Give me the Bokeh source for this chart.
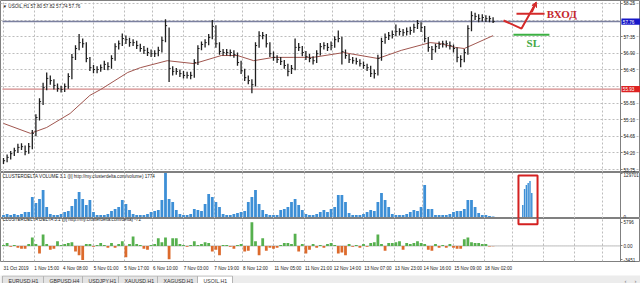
from bokeh.plotting import figure
from bokeh.layouts import column
from bokeh.models import (Range1d, LinearAxis, FixedTicker, Label, Grid,
                          PrintfTickFormatter, Arrow, VeeHead)
from bokeh.core.properties import value
from bokeh.embed import file_html
from bokeh.resources import INLINE

# ---------------- data ----------------
bar_hour = list(range(0, 273, 2))   # hourly bar index, sampled every 2 bars

closes = [53.99, 54.08, 54.18, 54.26, 54.35, 54.37, 54.24, 54.37, 54.73, 55.16,
          55.59, 55.97, 56.22, 56.16, 56.03, 55.95, 55.92, 56.00, 56.27, 56.79,
          57.03, 57.19, 57.16, 56.76, 56.51, 56.46, 56.46, 56.51, 56.60, 56.54,
          56.76, 57.08, 57.16, 57.30, 57.27, 57.19, 57.19, 57.11, 57.03, 56.98,
          56.92, 56.89, 56.89, 56.98, 57.25, 57.65, 56.49, 56.41, 56.41, 56.35,
          56.30, 56.30, 56.30, 56.65, 57.03, 57.14, 57.19, 57.33, 57.63, 57.16,
          56.95, 56.92, 56.92, 56.92, 56.87, 56.65, 56.43, 56.24, 56.16, 56.05,
          57.11, 57.38, 57.38, 57.16, 56.89, 56.79, 56.73, 56.68, 56.57, 56.41,
          56.49, 57.06, 57.06, 56.92, 56.81, 56.76, 56.70, 56.89, 57.08, 57.11,
          57.06, 57.11, 57.27, 57.30, 56.95, 56.84, 56.73, 56.70, 56.68, 56.62,
          56.57, 56.51, 56.35, 56.35, 56.76, 57.22, 57.33, 57.38, 57.41, 57.49,
          57.49, 57.46, 57.49, 57.52, 57.60, 57.71, 57.60, 57.30, 57.06, 57.00,
          57.08, 57.14, 57.16, 57.16, 57.11, 57.03, 56.79, 56.73, 56.92, 57.57,
          57.92, 57.90, 57.84, 57.87, 57.84, 57.84, 57.76]

highs = [54.06, 54.16, 54.25, 54.34, 54.45, 54.46, 54.40, 54.47, 54.82, 55.25,
         55.68, 56.10, 56.38, 56.30, 56.20, 56.08, 56.02, 56.08, 56.36, 56.88,
         57.12, 57.42, 57.30, 57.20, 56.80, 56.58, 56.55, 56.60, 56.70, 56.66,
         56.85, 57.17, 57.25, 57.44, 57.38, 57.32, 57.28, 57.24, 57.16, 57.10,
         57.05, 57.00, 56.98, 57.08, 57.35, 57.82, 57.60, 56.55, 56.50, 56.46,
         56.42, 56.40, 56.40, 56.74, 57.12, 57.22, 57.28, 57.42, 57.80, 57.66,
         57.20, 57.02, 57.02, 57.00, 56.98, 56.92, 56.70, 56.48, 56.30, 56.20,
         57.20, 57.50, 57.48, 57.42, 57.20, 56.95, 56.85, 56.80, 56.72, 56.62,
         56.58, 57.30, 57.18, 57.10, 56.96, 56.88, 56.82, 56.98, 57.18, 57.20,
         57.18, 57.22, 57.36, 57.52, 57.35, 57.00, 56.88, 56.80, 56.78, 56.74,
         56.68, 56.62, 56.56, 56.46, 56.86, 57.32, 57.44, 57.48, 57.52, 57.68,
         57.58, 57.56, 57.60, 57.62, 57.70, 57.80, 57.74, 57.64, 57.34, 57.10,
         57.16, 57.22, 57.24, 57.25, 57.22, 57.14, 57.06, 56.85, 57.02, 57.66,
         58.04, 58.00, 57.96, 57.96, 57.93, 57.92, 57.88]

lows = [53.90, 53.95, 54.02, 54.12, 54.20, 54.28, 54.14, 54.18, 54.30, 54.65,
        55.08, 55.50, 55.90, 56.05, 55.92, 55.86, 55.84, 55.85, 55.94, 56.20,
        56.72, 56.98, 57.05, 56.66, 56.42, 56.36, 56.36, 56.40, 56.45, 56.44,
        56.48, 56.70, 57.00, 57.10, 57.15, 57.08, 57.10, 57.02, 56.94, 56.88,
        56.83, 56.80, 56.80, 56.82, 56.92, 57.20, 56.12, 56.30, 56.32, 56.26,
        56.22, 56.22, 56.20, 56.24, 56.58, 56.98, 57.06, 57.12, 57.28, 57.05,
        56.86, 56.84, 56.84, 56.82, 56.78, 56.56, 56.34, 56.15, 56.06, 55.82,
        56.00, 57.05, 57.28, 57.06, 56.80, 56.70, 56.64, 56.58, 56.48, 56.28,
        56.34, 56.44, 56.96, 56.82, 56.72, 56.66, 56.60, 56.64, 56.84, 57.00,
        56.96, 56.98, 57.05, 57.20, 56.60, 56.75, 56.64, 56.62, 56.60, 56.54,
        56.48, 56.42, 56.26, 56.22, 56.30, 56.70, 57.16, 57.26, 57.30, 57.36,
        57.38, 57.36, 57.38, 57.40, 57.46, 57.56, 57.48, 57.20, 56.94, 56.72,
        56.92, 57.02, 57.06, 57.06, 57.00, 56.92, 56.66, 56.52, 56.66, 56.86,
        57.50, 57.80, 57.74, 57.76, 57.75, 57.74, 57.72]

ma_hour = [0, 15, 24, 37, 48, 54, 69, 76, 91, 106, 121, 130, 139, 150, 161,
           172, 189, 208, 221, 237, 243, 251, 256, 262, 272]
ma_value = [55.00, 54.73, 54.89, 55.27, 55.76, 55.92, 56.38, 56.51, 56.70, 56.62,
            56.84, 56.84, 56.70, 56.79, 56.79, 56.79, 56.92, 56.76, 56.98, 57.19,
            57.16, 57.06, 57.03, 57.16, 57.38]

volume = [5900, 8850, 5900, 8850, 5900, 8850, 14750, 14750, 59000, 41300,
          53100, 79650, 29500, 8850, 5900, 5900, 8850, 14750, 17700, 32450,
          53100, 73750, 53100, 35400, 50150, 14750, 5900, 5900, 5900, 8850,
          17700, 23600, 29500, 50150, 38350, 20650, 8850, 5900, 5900, 5900,
          8850, 14750, 17700, 20650, 50150, 129701, 53100, 44250, 20650, 8850,
          5900, 5900, 8850, 23600, 20650, 17700, 38350, 67850, 59000, 44250,
          29500, 8850, 5900, 5900, 8850, 11800, 14750, 17700, 44250, 59000,
          79650, 38350, 20650, 8850, 5900, 5900, 5900, 20650, 23600, 29500,
          44250, 53100, 35400, 20650, 8850, 5900, 5900, 8850, 14750, 20650,
          14750, 23600, 29500, 64900, 64900, 44250, 11800, 5900, 5900, 5900,
          8850, 14750, 20650, 17700, 44250, 70800, 50150, 29500, 8850, 5900,
          5900, 5900, 8850, 14750, 20650, 17700, 29500, 94400, 23600, 23600,
          5900, 5900, 5900, 5900, 8850, 14750, 17700, 17700, 23600, 50150,
          50150, 29500, 11800, 5900, 5900, 2950, 1774]

delta = [232, 696, -232, 232, -464, -696, -696, 464, 2088, 464,
         -1856, 2784, 464, -928, -696, 1160, 232, 464, 696, 928,
         -1392, -2320, -3451, 464, 464, -232, 232, 696, 232, -464,
         696, -464, 464, 1160, -2784, 464, 2320, 464, 232, -696,
         -928, 232, 464, 1856, 928, 2088, -3248, 1856, 1856, 464,
         232, -232, 232, 1160, 232, 464, 928, 696, -1392, -928,
         -2320, 232, 232, -232, -696, 232, 464, -1392, -1160, 5796,
         1160, -2320, 1856, -1160, -464, -696, -464, 232, 696, 696,
         464, 3016, -1392, 464, -1856, -928, 464, -464, 232, -464,
         464, 696, 232, -1856, -1624, -2320, 464, -232, 232, -464,
         464, -232, 696, 928, 2784, 464, -1160, 696, 696, 928,
         1160, -928, 696, 464, 696, 1160, 696, 464, -928, -1160,
         464, -464, 232, -464, 464, -464, -696, -696, 1624, 2088,
         928, 696, 696, 464, 464, -150, -72]

# the pasted volume burst inside the red frame
burst_hour = [288.5, 289.5, 290.5, 291.5, 292.5, 293.5]
burst_volume = [35400, 82500, 94300, 100200, 106100, 70700]

price_ticks = [58.25, 57.80, 57.35, 56.90, 56.45, 56.00, 55.55, 55.10, 54.65, 54.20, 53.75]
bid_price = 57.76
level_price = 55.93
entry_price = 57.97
sl_price = 57.40

tick_hours = [0, 17, 33, 50, 67, 83, 100, 117, 133, 150, 167, 183, 200, 217, 233, 250, 267]
tick_labels = ["31 Oct 2019", "1 Nov 15:00", "4 Nov 08:00", "5 Nov 01:00", "5 Nov 17:00",
               "6 Nov 10:00", "7 Nov 03:00", "7 Nov 19:00", "8 Nov 12:00", "11 Nov 05:00",
               "11 Nov 21:00", "12 Nov 14:00", "13 Nov 07:00", "13 Nov 23:00", "14 Nov 16:00",
               "15 Nov 09:00", "18 Nov 02:00"]
grid_hours = tick_hours + [283, 300, 317, 333]

tabs = ["EURUSD,H1", "GBPUSD,H4", "USDJPY,H1", "XAUUSD,H1", "XAGUSD,H1", "USOIL,H1"]
tab_edges = [2, 43, 82, 118, 157, 197, 232]

# ---------------- styling helpers ----------------
FONT = "Liberation Sans"
FS = "4.6px"
GRID_COLOR = "#bdbdbd"
FRAME_COLOR = "#808080"
X_LEFT, X_RIGHT, X_END = -0.556, 342.8, 353.9   # chart area; the price scale sits right of X_RIGHT

xr = Range1d(-1.667, X_END)


def make_fig(height, yr, bottom=0):
    p = figure(width=640, height=height, x_range=xr, y_range=yr,
               output_backend="svg", toolbar_location=None,
               x_axis_location=None, y_axis_location=None,
               min_border_left=0, min_border_right=0,
               min_border_top=0, min_border_bottom=bottom)
    p.center = []
    p.outline_line_color = FRAME_COLOR
    p.outline_line_width = 1
    p.background_fill_color = "white"
    p.border_fill_color = "white"
    p.add_layout(Grid(dimension=0, ticker=FixedTicker(ticks=grid_hours),
                      grid_line_color=GRID_COLOR, grid_line_dash="2 2", grid_line_width=1))
    return p


def style_axis(ax):
    ax.axis_line_color = FRAME_COLOR
    ax.major_tick_line_color = FRAME_COLOR
    ax.major_tick_out = 2
    ax.major_tick_in = 0
    ax.minor_tick_line_color = None
    ax.major_label_text_font = FONT
    ax.major_label_text_font_size = FS
    ax.major_label_text_color = "#222222"
    ax.major_label_standoff = 1


def right_scale(p, ticks, **kw):
    ax = LinearAxis(ticker=FixedTicker(ticks=ticks), fixed_location=X_RIGHT, **kw)
    style_axis(ax)
    p.add_layout(ax, "right")


def title_label(p, text, y):
    p.add_layout(Label(x=2, y=y, x_units="screen", y_units="screen", text=text,
                       text_font=FONT, text_font_size=FS, text_color="#222222",
                       text_baseline="middle"))


# ---------------- price panel ----------------
p1 = make_fig(172, Range1d(53.670, 58.331))
p1.add_layout(Grid(dimension=1, ticker=FixedTicker(ticks=price_ticks), bounds=(X_LEFT, X_RIGHT),
                   grid_line_color=GRID_COLOR, grid_line_dash="2 2", grid_line_width=1))
marked = [bid_price, level_price]
scale_ticks = [t for t in price_ticks if min(abs(t - m) for m in marked) > 0.12]
right_scale(p1, scale_ticks, formatter=PrintfTickFormatter(format="%.2f"))

p1.segment(x0=[X_LEFT], y0=[level_price], x1=[X_RIGHT], y1=[level_price], line_color="#c96a6a", line_width=1)
p1.segment(x0=[X_LEFT], y0=[bid_price], x1=[X_RIGHT], y1=[bid_price], line_color="#7b80a0", line_width=1.5)
p1.line(ma_hour, ma_value, line_color="#a0564f", line_width=1)
p1.segment(x0=bar_hour, y0=lows, x1=bar_hour, y1=highs, line_color="#1e1e1e", line_width=1.3)
p1.segment(x0=bar_hour, y0=closes, x1=[h + 0.9 for h in bar_hour], y1=closes,
           line_color="#1e1e1e", line_width=1)

# price boxes on the scale (current bid in blue, horizontal level in red)
p1.quad(left=[X_RIGHT + 0.5] * 2, right=[X_END] * 2,
        top=[m + 0.085 for m in marked], bottom=[m - 0.085 for m in marked],
        fill_color=["#1818c8", "#dd2222"], line_color=None)
p1.text(x=[X_RIGHT + 1.3] * 2, y=marked, text=["%.2f" % m for m in marked],
        text_font=value(FONT), text_font_size=FS, text_color="white", text_baseline="middle")

# entry / stop annotations
p1.segment(x0=[285.0], y0=[entry_price], x1=[300.6], y1=[entry_price], line_color="#d42a2a", line_width=2)
p1.line([277.8, 287.8, 295.3], [57.79, 57.57, 58.22], line_color="#d42a2a", line_width=2)
p1.add_layout(Arrow(end=VeeHead(size=5, fill_color="#d42a2a", line_color="#d42a2a"),
                    x_start=293.5, y_start=58.02, x_end=296.0, y_end=58.29,
                    line_color="#d42a2a", line_width=2))
p1.text(x=[301.8], y=[entry_price], text=["ВХОД"], text_font=value("Liberation Serif"),
        text_font_style="bold", text_font_size="11px", text_color="#c4262c",
        text_baseline="middle", text_align="left")
p1.segment(x0=[283.3], y0=[sl_price], x1=[303.3], y1=[sl_price], line_color="#3cb043", line_width=2)
p1.text(x=[290.6], y=[57.19], text=["SL"], text_font=value("Liberation Serif"),
        text_font_style="bold", text_font_size="11px", text_color="#44a844",
        text_baseline="middle", text_align="left")

title_label(p1, "▼ USOIL,H1  57.80 57.82 57.74 57.76", 166)

# ---------------- volume panel ----------------
vmax = max(volume)
p2 = make_fig(46, Range1d(-4420, 131175))
right_scale(p2, [vmax, 0], major_label_overrides={vmax: str(vmax), 0: "0"})
p2.vbar(x=bar_hour, top=volume, bottom=0, width=1.55, fill_color="#3d8fd6", line_color=None)
p2.vbar(x=burst_hour, top=burst_volume, bottom=0, width=0.8, fill_color="#3d8fd6", line_color=None)
p2.quad(left=[286.1], right=[296.7], top=[122300], bottom=[-40000],
        fill_color=None, line_color="#d42020", line_width=2)
title_label(p2, "CLUSTERDELTA VOLUME 3.1 ([i] http://my.clusterdelta.com/volume) %d" % volume[-1], 42)

# ---------------- delta panel ----------------
dmax, dmin = max(delta), min(delta)
p3 = make_fig(55, Range1d(-3826, 6736), bottom=10)
right_scale(p3, [dmax, 0, dmin], major_label_overrides={dmax: str(dmax), 0: "0.00", dmin: str(dmin)})

# time scale: labels start at their tick, so each label is centred half its width to the right
label_pos = [t + round(0.64 * len(s)) for t, s in zip(tick_hours, tick_labels)]
xa = LinearAxis(ticker=FixedTicker(ticks=label_pos),
                major_label_overrides=dict(zip(label_pos, tick_labels)))
style_axis(xa)
xa.axis_line_color = None
xa.major_tick_line_color = None
xa.major_label_standoff = 2
p3.add_layout(xa, "below")
p3.segment(x0=[X_LEFT], y0=[0], x1=[X_RIGHT], y1=[0], line_color="#777777", line_dash="1 1", line_width=1)
p3.vbar(x=bar_hour, top=delta, bottom=0, width=1.55,
        fill_color=["#56b04e" if d >= 0 else "#dc6a2c" for d in delta], line_color=None)
p3.quad(left=[286.1], right=[296.7], top=[9000], bottom=[5330],
        fill_color=None, line_color="#d42020", line_width=2)
title_label(p3, "CLUSTERDELTA DELTA 3.1 ([i] http://my.clusterdelta.com/delta) %d" % delta[-1], 42)

# ---------------- terminal tabs ----------------
p4 = figure(width=640, height=10, x_range=Range1d(0, 640), y_range=Range1d(0, 10),
            output_backend="svg", toolbar_location=None,
            x_axis_location=None, y_axis_location=None,
            min_border_left=0, min_border_right=0, min_border_top=0, min_border_bottom=0)
p4.center = []
p4.outline_line_color = None
p4.background_fill_color = "#ececec"
p4.border_fill_color = "#ececec"
p4.quad(left=tab_edges[:-1], right=tab_edges[1:], top=[9.5] * len(tabs), bottom=[0] * len(tabs),
        fill_color=["#e4e4e4"] * (len(tabs) - 1) + ["white"], line_color="#b4b4b4", line_width=1)
p4.text(x=[e + 6 for e in tab_edges[:-1]], y=[4.8] * len(tabs), text=tabs,
        text_font=value(FONT), text_font_size="5.2px", text_color="#333333",
        text_baseline="middle")
p4.text(x=[624, 634], y=[4.8, 4.8], text=["‹", "›"], text_font=value(FONT),
        text_font_size="6px", text_color="#777777", text_baseline="middle")

layout = column(p1, p2, p3, p4, spacing=0)
open("out.html", "w").write(file_html(layout, INLINE))
